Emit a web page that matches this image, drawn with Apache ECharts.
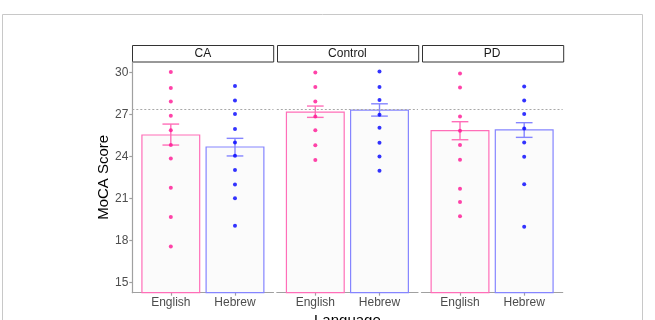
<!DOCTYPE html>
<html>
<head>
<meta charset="utf-8">
<script src="https://cdn.jsdelivr.net/npm/echarts@6/dist/echarts.min.js"></script>
<style>
html,body{margin:0;padding:0;background:#fff;}
#chart{width:655px;height:320px;}
</style>
</head>
<body>
<div id="chart"></div>
<script>
// ---- data ----
const categories = ['English', 'Hebrew'];
const groups = ['CA', 'Control', 'PD'];
const meanEnglish = [25.53, 27.17, 25.84];
const meanHebrew = [24.67, 27.31, 25.89];
const errLowEnglish = [24.81, 26.79, 25.19];
const errHighEnglish = [26.31, 27.60, 26.48];
const errLowHebrew = [24.03, 26.88, 25.36];
const errHighHebrew = [25.29, 27.76, 26.41];
const pointsEnglish = [
  [30.03, 28.89, 27.93, 26.91, 25.86, 24.81, 23.84, 21.76, 19.67, 17.55],
  [30.0, 28.96, 27.93, 26.86, 25.86, 24.79, 23.74],
  [29.93, 28.93, 26.86, 25.84, 24.81, 23.76, 21.69, 20.74, 19.71]
];
const pointsHebrew = [
  [29.03, 28.0, 27.03, 25.96, 25.0, 24.05, 23.03, 21.98, 21.0, 19.03],
  [30.07, 28.96, 28.03, 26.98, 26.05, 24.98, 24.0, 22.98],
  [29.0, 28.0, 27.03, 26.0, 25.0, 23.98, 22.0, 18.96]
];
const referenceLine = 27.4;
const yTicks = [15, 18, 21, 24, 27, 30];
const yMin = 14.25, yMax = 30.75;

// ---- styling / layout ----
const FONT = '"Liberation Sans", Arial, sans-serif';
const panelLeft = [132.3, 276.8, 421.5];
const panelWidth = 141.2;
const gridTop = 62;
const gridHeight = 230.7;
const strokeCol = ['#FF6EB8', '#8585FF'];
const pointCol = ['#FF1493', '#0000FF'];
const axisCol = '#A0A0A0';

const chart = echarts.init(document.getElementById('chart'), null, {renderer: 'canvas'});

const grid = [], xAxis = [], yAxis = [], series = [], graphic = [];

graphic.push({
  type: 'rect', left: 0, top: 12, z: -1,
  shape: {x: 0.5, y: 12.5, width: 640, height: 400},
  style: {fill: 'none', stroke: '#C8C8C8', lineWidth: 1}
});

groups.forEach((g, i) => {
  grid.push({left: panelLeft[i], top: gridTop, width: panelWidth, height: gridHeight,
    containLabel: false, outerBoundsMode: 'none'});
  xAxis.push({
    type: 'value', gridIndex: i, min: 0.4, max: 2.6,
    splitLine: {show: false},
    axisLine: {show: true, onZero: false, lineStyle: {color: axisCol, width: 1.2}},
    axisTick: {show: true, customValues: [1, 2], length: 3, lineStyle: {color: axisCol, width: 1.2}},
    axisLabel: {customValues: [1, 2], formatter: v => categories[Math.round(v) - 1],
      color: '#4D4D4D', fontSize: 12, fontFamily: FONT, margin: 4},
    name: i === 1 ? 'Language' : '',
    nameLocation: 'middle', nameGap: 17,
    nameTextStyle: {color: '#000', fontSize: 15, fontFamily: FONT}
  });
  yAxis.push({
    type: 'value', gridIndex: i, min: yMin, max: yMax,
    show: i === 0,
    splitLine: {show: false},
    axisLine: {show: true, onZero: false, lineStyle: {color: axisCol, width: 1.2}},
    axisTick: {show: true, customValues: yTicks, length: 3, lineStyle: {color: axisCol, width: 1.2}},
    axisLabel: {customValues: yTicks, color: '#4D4D4D', fontSize: 12, fontFamily: FONT, margin: 4},
    name: 'MoCA Score', nameLocation: 'middle', nameGap: 19,
    nameTextStyle: {color: '#000', fontSize: 15, fontFamily: FONT}
  });

  // bars
  series.push({
    type: 'custom', xAxisIndex: i, yAxisIndex: i, z: 1,
    data: [[1, meanEnglish[i], 0], [2, meanHebrew[i], 1]],
    renderItem: (params, api) => {
      const x = api.value(0), v = api.value(1), k = api.value(2);
      const p1 = api.coord([x - 0.45, v]);
      const p2 = api.coord([x + 0.45, yMin]);
      return {
        type: 'rect',
        shape: {x: p1[0], y: p1[1], width: p2[0] - p1[0], height: p2[1] - p1[1]},
        style: {fill: '#FBFBFB', stroke: strokeCol[k], lineWidth: 1.2}
      };
    }
  });
  // error bars
  series.push({
    type: 'custom', xAxisIndex: i, yAxisIndex: i, z: 2,
    data: [[1, errLowEnglish[i], errHighEnglish[i], 0], [2, errLowHebrew[i], errHighHebrew[i], 1]],
    renderItem: (params, api) => {
      const x = api.value(0), lo = api.value(1), hi = api.value(2), k = api.value(3);
      const w = 0.13;
      const a = api.coord([x, lo]), b = api.coord([x, hi]);
      const l1 = api.coord([x - w, lo]), r1 = api.coord([x + w, lo]);
      const l2 = api.coord([x - w, hi]), r2 = api.coord([x + w, hi]);
      const st = {stroke: strokeCol[k], lineWidth: 1.4};
      return {
        type: 'group',
        children: [
          {type: 'line', shape: {x1: a[0], y1: a[1], x2: b[0], y2: b[1]}, style: st},
          {type: 'line', shape: {x1: l1[0], y1: l1[1], x2: r1[0], y2: r1[1]}, style: st},
          {type: 'line', shape: {x1: l2[0], y1: l2[1], x2: r2[0], y2: r2[1]}, style: st}
        ]
      };
    }
  });
  // points
  series.push({
    type: 'scatter', xAxisIndex: i, yAxisIndex: i, z: 3,
    symbol: 'circle', symbolSize: 4,
    itemStyle: {color: pointCol[0]},
    data: pointsEnglish[i].map(v => [1, v]),
    markLine: {
      silent: true, symbol: 'none', label: {show: false},
      lineStyle: {color: '#A8A8A8', type: [2, 2], width: 1},
      data: [{yAxis: referenceLine}]
    }
  });
  series.push({
    type: 'scatter', xAxisIndex: i, yAxisIndex: i, z: 3,
    symbol: 'circle', symbolSize: 4,
    itemStyle: {color: pointCol[1]},
    data: pointsHebrew[i].map(v => [2, v])
  });

  // strip
  graphic.push({
    type: 'group',
    children: [
      {type: 'rect', shape: {x: Math.round(panelLeft[i]) + 0.5, y: 45.5, width: panelWidth, height: 16.5},
        style: {fill: '#FFFFFF', stroke: '#333333', lineWidth: 1}},
      {type: 'text', x: panelLeft[i] + panelWidth / 2, y: 54,
        style: {text: g, fill: '#1A1A1A', fontSize: 12, fontFamily: FONT, align: 'center', verticalAlign: 'middle'}}
    ]
  });
});

chart.setOption({
  animation: false,
  backgroundColor: '#FFFFFF',
  grid, xAxis, yAxis, series, graphic
});
</script>
</body>
</html>
